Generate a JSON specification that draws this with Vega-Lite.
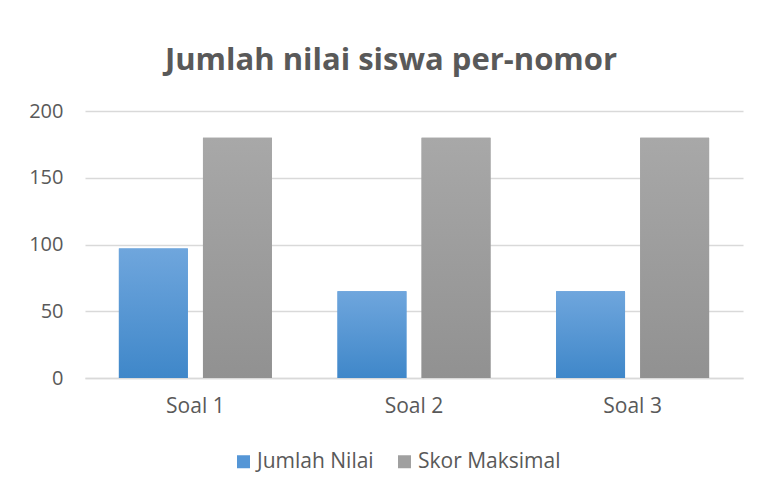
{
  "$schema": "https://vega.github.io/schema/vega-lite/v6.json",
  "width": 658,
  "height": 267,
  "autosize": "none",
  "padding": {"left": 85, "top": 111, "right": 16, "bottom": 117},
  "background": "white",
  "title": {
    "text": "Jumlah nilai siswa per-nomor",
    "font": "Open Sans",
    "fontSize": 31,
    "fontWeight": "bold",
    "color": "#595959",
    "anchor": "middle",
    "dx": -23,
    "offset": 24
  },
  "data": {
    "values": [
      {"soal": "Soal 1", "series": "Jumlah Nilai", "nilai": 97},
      {"soal": "Soal 1", "series": "Skor Maksimal", "nilai": 180},
      {"soal": "Soal 2", "series": "Jumlah Nilai", "nilai": 65},
      {"soal": "Soal 2", "series": "Skor Maksimal", "nilai": 180},
      {"soal": "Soal 3", "series": "Jumlah Nilai", "nilai": 65},
      {"soal": "Soal 3", "series": "Skor Maksimal", "nilai": 180}
    ]
  },
  "encoding": {
    "x": {
      "field": "soal",
      "type": "nominal",
      "scale": {"paddingInner": 0.3, "paddingOuter": 0.155},
      "axis": {
        "title": null,
        "labelAngle": 0,
        "labelFont": "Open Sans",
        "labelFontSize": 21,
        "labelColor": "#595959",
        "labelPadding": 17,
        "ticks": false,
        "domain": true,
        "domainColor": "#d9d9d9",
        "domainWidth": 1.5,
        "grid": false
      }
    },
    "xOffset": {
      "field": "series",
      "type": "nominal",
      "scale": {"paddingInner": 0.18, "paddingOuter": 0}
    },
    "y": {
      "field": "nilai",
      "type": "quantitative",
      "scale": {"domain": [0, 200]},
      "axis": {
        "title": null,
        "values": [0, 50, 100, 150, 200],
        "labelFont": "Open Sans",
        "labelFontSize": 20,
        "labelColor": "#595959",
        "labelPadding": 22,
        "ticks": false,
        "domain": false,
        "gridColor": "#d9d9d9",
        "gridWidth": 1.3
      }
    }
  },
  "layer": [
    {
      "mark": {"type": "bar"},
      "encoding": {
        "color": {
          "field": "series",
          "type": "nominal",
          "scale": {"domain": ["Jumlah Nilai", "Skor Maksimal"], "range": ["#5596d6", "#a0a0a0"]},
          "legend": {
            "title": null,
            "orient": "none",
            "direction": "horizontal",
            "legendX": 148,
            "legendY": 340,
            "symbolType": "square",
            "symbolSize": 169,
            "symbolStrokeWidth": 0,
            "labelFont": "Open Sans",
            "labelFontSize": 21,
            "labelColor": "#595959",
            "labelOffset": 3,
            "columnPadding": 20
          }
        }
      }
    },
    {
      "mark": {"type": "bar"},
      "encoding": {
        "fill": {
          "condition": {
            "test": "datum.series === 'Jumlah Nilai'",
            "value": {
              "x1": 0, "y1": 0, "x2": 0, "y2": 1,
              "gradient": "linear",
              "stops": [{"offset": 0, "color": "#6fa6dd"}, {"offset": 1, "color": "#3f87c9"}]
            }
          },
          "value": {
            "x1": 0, "y1": 0, "x2": 0, "y2": 1,
            "gradient": "linear",
            "stops": [{"offset": 0, "color": "#a8a8a8"}, {"offset": 1, "color": "#919191"}]
          }
        }
      }
    }
  ],
  "config": {
    "view": {"stroke": null}
  }
}
